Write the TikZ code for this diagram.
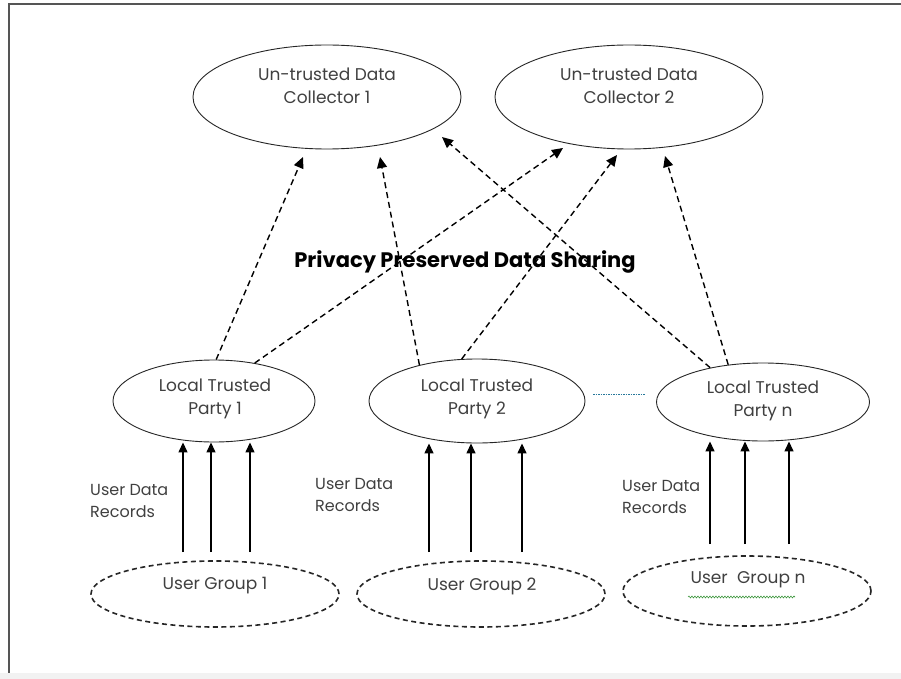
\documentclass[tikz,border=0pt]{standalone}
\usepackage{fontspec}
\setmainfont{Poppins}
\usetikzlibrary{arrows.meta,shapes.geometric,decorations.pathmorphing}
\definecolor{dotblue}{RGB}{40,120,155}
\definecolor{spellgreen}{RGB}{60,150,60}
\definecolor{framegray}{RGB}{85,85,85}
\begin{document}
\begin{tikzpicture}[x=1pt,y=-1pt,
  solidell/.style={ellipse, draw=black!85, line width=0.9pt, inner sep=0pt},
  dashell/.style={ellipse, draw=black!85, line width=1.6pt, dash pattern=on 5pt off 3.5pt, inner sep=0pt},
  lbl/.style={font=\fontsize{17}{23}\selectfont, text=black!75, align=center, inner sep=0pt},
  small/.style={font=\fontsize{16}{22}\selectfont, text=black!75, align=left, inner sep=0pt, anchor=west},
  darr/.style={line width=1.4pt, dash pattern=on 6pt off 4pt, -{Triangle[length=11pt,width=10pt]}},
  sarr/.style={line width=1.4pt, -{Triangle[length=10pt,width=9pt]}},
  dotline/.style={draw=dotblue, line width=0.9pt, dash pattern=on 1.5pt off 1pt},
]
\useasboundingbox (0,0) rectangle (901,679);
\fill[white] (0,0) rectangle (901,679);
\fill[black!5] (0,673) rectangle (901,679);
\draw[framegray, line width=2pt] (901,4) -- (9,4) -- (9,673);

% Data collectors
\node[solidell, minimum width=268pt, minimum height=104pt] (udc1) at (327,97) {};
\node[lbl] (udc1t) at (327,86) {Un-trusted Data\\Collector 1};
\node[solidell, minimum width=268pt, minimum height=104pt] (udc2) at (629,97) {};
\node[lbl] (udc2t) at (629,86) {Un-trusted Data\\Collector 2};

% title
\node[font=\bfseries\fontsize{21}{25}\selectfont, inner sep=0pt] (title) at (465,262) {Privacy Preserved Data Sharing};

% local trusted parties
\node[solidell, minimum width=202pt, minimum height=82pt] (ltp1) at (214,401) {};
\node[lbl] (ltp1t) at (215,398.5) {Local Trusted\\Party 1};
\node[solidell, minimum width=216pt, minimum height=84pt] (ltp2) at (477,401) {};
\node[lbl] (ltp2t) at (477,398.5) {Local Trusted\\Party 2};
\node[solidell, minimum width=213pt, minimum height=78pt] (ltpn) at (763,402) {};
\node[lbl] (ltpnt) at (763,401) {Local Trusted\\Party n};

% dotted continuation
\coordinate (d1) at (593,394);
\coordinate (d2) at (645,394);
\draw[dotline] (d1) -- (d2);

% user groups
\node[dashell, minimum width=248pt, minimum height=66pt] (ug1) at (215,594) {};
\node[lbl] (ug1t) at (215,586) {User Group 1};
\node[dashell, minimum width=248pt, minimum height=66pt] (ug2) at (481,594) {};
\node[lbl] (ug2t) at (482,586) {User Group 2};
\node[dashell, minimum width=248pt, minimum height=70pt] (ugn) at (747,591) {};
\node[lbl] (ugnt) at (748,580) {User\hspace{0.55em}Group n};
\draw[spellgreen, line width=0.6pt, decorate, decoration={snake, segment length=3pt, amplitude=0.9pt}] (688,597) -- (795,597);

% user data records labels
\node[small] (r1) at (90,501) {User Data\\Records};
\node[small] (r2) at (315,494.5) {User Data\\Records};
\node[small] (rn) at (622,497) {User Data\\Records};

% solid arrows
\foreach \x/\n in {183/a,211/b,250/c} {
  \coordinate (g1\n) at (\x,552);
  \draw[sarr] (g1\n) -- (g1\n |- ltp1.south);
}
\foreach \x/\n in {429/a,471/b,522/c} {
  \coordinate (g2\n) at (\x,552);
  \draw[sarr] (g2\n) -- (g2\n |- ltp2.south);
}
\foreach \x/\n in {710/a,745/b,789/c} {
  \coordinate (gn\n) at (\x,544);
  \draw[sarr] (gn\n) -- (gn\n |- ltpn.south);
}

% dashed arrows
\coordinate (t1) at (303,157);
\coordinate (t2) at (563,148);
\coordinate (t3) at (380,157);
\coordinate (t4) at (617,155);
\coordinate (t5) at (442,137);
\coordinate (t6) at (665,156);
\draw[darr] (ltp1.87) -- (t1);
\draw[darr] (ltp1.43) -- (t2);
\draw[darr] (ltp2.148) -- (t3);
\draw[darr] (ltp2.110) -- (t4);
\draw[darr] (ltpn.147) -- (t5);
\draw[darr] (ltpn.133) -- (t6);
\end{tikzpicture}
\end{document}
